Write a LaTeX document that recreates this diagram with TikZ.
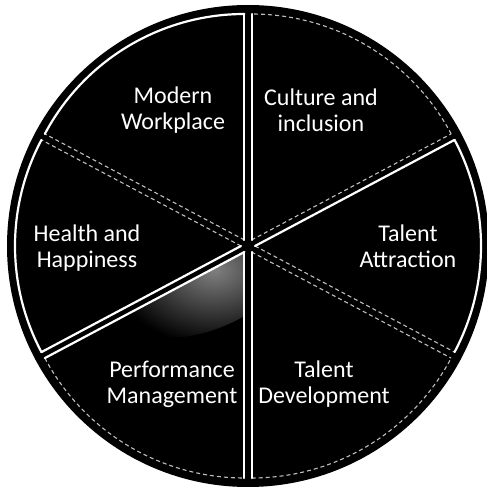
\documentclass[tikz,border=0pt]{standalone}
\usepackage{fontspec}
\setmainfont{Carlito}
\usetikzlibrary{calc}
\tikzset{
  rim/.style={white, line width=2.2pt, line cap=round},
  faint/.style={white, line width=1.1pt, dash pattern=on 4pt off 3pt, opacity=0.75},
  seglabel/.style={text=white, align=center, font=\fontsize{24}{26}\selectfont, inner sep=0pt},
}
\begin{document}
\begin{tikzpicture}[x=1pt,y=1pt]
\useasboundingbox (0,0) rectangle (487,488);
\coordinate (O) at (248,242);
% dark backing disk
\fill[black] (O) circle (241pt);
% six exploded segments: name / start angle / end angle
\foreach \n/\a/\b in {cul/28/90, att/-28/28, dev/-90/-28, per/208/270, hea/152/208, mod/90/152}{
  \pgfmathsetmacro\m{(\a+\b)/2}
  \coordinate (\n-o) at ($(O)+(\m:7pt)$);
  \coordinate (\n-1) at ($(\n-o)+(\a:226pt)$);
  \coordinate (\n-2) at ($(\n-o)+(\b:226pt)$);
  \fill[black] (\n-o) -- (\n-1) arc[start angle=\a, end angle=\b, radius=226pt] -- cycle;
}
% lighter worn patch along the upper edge of the lower-left segment
\begin{scope}
  \clip (per-o) -- (per-1) arc[start angle=208, end angle=270, radius=226pt] -- cycle;
  \shade[shift={(214,218)}, rotate=28, inner color=black!50, outer color=black] (0,0) ellipse (100pt and 55pt);
\end{scope}
% segment outlines
\draw[faint] (cul-o) -- (cul-1);
\draw[faint] (cul-1) arc[start angle=28, end angle=90, radius=226pt];
\draw[rim]   (cul-o) -- (cul-2);
\draw[faint] (att-o) -- (att-1);
\draw[rim]   (att-1) arc[start angle=-28, end angle=28, radius=226pt];
\draw[rim]   (att-o) -- (att-2);
\draw[rim]   (dev-o) -- (dev-1);
\draw[faint] (dev-1) arc[start angle=-90, end angle=-28, radius=226pt];
\draw[faint] (dev-o) -- (dev-2);
\draw[rim]   (per-o) -- (per-1);
\draw[faint] (per-1) arc[start angle=208, end angle=270, radius=226pt];
\draw[rim]   (per-o) -- (per-2);
\draw[faint] (hea-o) -- (hea-1);
\draw[rim]   (hea-1) arc[start angle=152, end angle=208, radius=226pt];
\draw[rim]   (hea-o) -- (hea-2);
\draw[rim]   (mod-o) -- (mod-1);
\draw[rim]   (mod-1) arc[start angle=90, end angle=152, radius=226pt];
\draw[faint] (mod-o) -- (mod-2);
% segment labels
\node[seglabel] (tmod) at (173,378) {Modern\\Workplace};
\node[seglabel] (tcul) at (321,378) {Culture and\\inclusion};
\node[seglabel] (thea) at (87,240) {Health and\\Happiness};
\node[seglabel] (tatt) at (408,242) {Talent\\Attraction};
\node[seglabel] (tper) at (172,104) {Performance\\Management};
\node[seglabel] (tdev) at (324,104) {Talent\\Development};
\end{tikzpicture}
\end{document}
